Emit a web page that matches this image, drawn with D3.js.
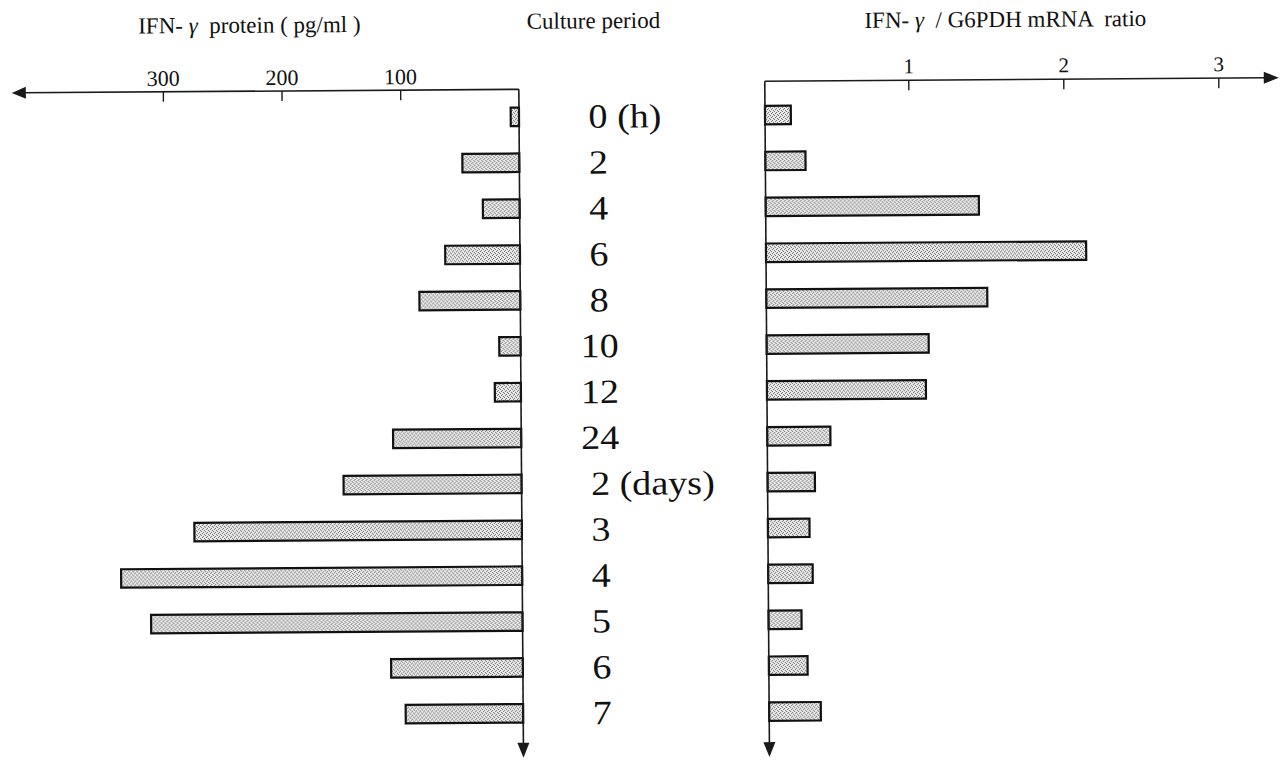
<!DOCTYPE html>
<html><head><meta charset="utf-8">
<script src="https://cdn.jsdelivr.net/npm/d3@7"></script>
<style>html,body{margin:0;padding:0;background:#fff;} svg{display:block;} text{white-space:pre;}</style>
</head><body>
<svg id="c" width="1285" height="760"></svg>
<script>
// ---- data ----
const periods      = ["0", "2", "4", "6", "8", "10", "12", "24", "2", "3", "4", "5", "6", "7"];
const periodUnits  = [" (h)", "", "", "", "", "", "", "", " (days)", "", "", "", "", ""];
const proteinValues = [7, 48, 31, 63, 85, 18, 22, 108, 150, 276, 338, 313, 111, 99];   // pg/ml
const mrnaValues    = [0.18, 0.28, 1.45, 2.14, 1.50, 1.12, 1.10, 0.44, 0.33, 0.29, 0.31, 0.23, 0.27, 0.36]; // ratio
const proteinTicks = [100, 200, 300];
const mrnaTicks    = [1, 2, 3];
const titleProtein = ["IFN- ", "\u03B3", "  protein ( pg/ml )"];
const titlePeriod  = "Culture period";
const titleMrna    = ["IFN- ", "\u03B3", "  / G6PDH mRNA  ratio"];

// ---- layout ----
const FONT = "'Liberation Serif', 'Times New Roman', serif";
const svg = d3.select("#c");
const root = svg.append("g").attr("transform", "rotate(-0.4,640,400)");

const idx = d3.range(periods.length);
const y = d3.scalePoint().domain(idx).range([116, 712.5]);
const barH = 18.5;

const xL = d3.scaleLinear().domain([0, 300]).range([521, 165]);
const xR = d3.scaleLinear().domain([0, 1, 2, 3]).range([767, 910.5, 1065.5, 1220.5]);
const axisYL = 88.5, axisYR = 82.2;

// stipple pattern
const defs = svg.append("defs");
const pat = defs.append("pattern").attr("id", "stip").attr("patternUnits", "userSpaceOnUse")
  .attr("width", 4).attr("height", 4);
pat.append("rect").attr("width", 4).attr("height", 4).attr("fill", "#ececec");
[[0,0],[2,1],[1,2],[3,3]].forEach(([a,b]) =>
  pat.append("rect").attr("x", a).attr("y", b).attr("width", 1).attr("height", 1).attr("fill", "#6a6a6a"));

const lineCol = "#1a1a1a";

// ---- left panel ----
const gL = root.append("g");
gL.selectAll("rect.bar").data(proteinValues).join("rect").attr("class", "bar")
  .attr("x", d => xL(d)).attr("width", d => xL(0) - xL(d))
  .attr("y", (d, i) => y(i) - barH / 2).attr("height", barH)
  .attr("fill", "url(#stip)").attr("stroke", "#111").attr("stroke-width", 2.2);

gL.append("line").attr("x1", xL(0)).attr("x2", 24).attr("y1", axisYL).attr("y2", axisYL)
  .attr("stroke", lineCol).attr("stroke-width", 1.6);
gL.append("path").attr("d", `M14,${axisYL} L28,${axisYL - 6} L28,${axisYL + 6} Z`).attr("fill", lineCol);
const axL = d3.axisTop(xL).tickValues(proteinTicks).tickFormat(d3.format("d"))
  .tickSizeInner(-10).tickSizeOuter(0).tickPadding(6);
const gAxL = gL.append("g").attr("transform", `translate(0,${axisYL})`).call(axL);
gAxL.select(".domain").remove();
gAxL.attr("font-family", null);
gAxL.selectAll(".tick line").attr("stroke", lineCol).attr("stroke-width", 1.4);
gAxL.selectAll(".tick text").style("font-family", FONT).style("font-size", "22px").attr("fill", "#111");
gL.append("line").attr("x1", xL(0)).attr("x2", xL(0)).attr("y1", axisYL).attr("y2", 745)
  .attr("stroke", lineCol).attr("stroke-width", 1.6);
gL.append("path").attr("d", `M${xL(0)},757 L${xL(0) - 6},742 L${xL(0) + 6},742 Z`).attr("fill", lineCol);

// ---- right panel ----
const gR = root.append("g");
gR.selectAll("rect.bar").data(mrnaValues).join("rect").attr("class", "bar")
  .attr("x", xR(0)).attr("width", d => xR(d) - xR(0))
  .attr("y", (d, i) => y(i) - barH / 2).attr("height", barH)
  .attr("fill", "url(#stip)").attr("stroke", "#111").attr("stroke-width", 2.2);

gR.append("line").attr("x1", xR(0)).attr("x2", 1270).attr("y1", axisYR).attr("y2", axisYR)
  .attr("stroke", lineCol).attr("stroke-width", 1.6);
gR.append("path").attr("d", `M1281,${axisYR} L1266,${axisYR - 6} L1266,${axisYR + 6} Z`).attr("fill", lineCol);
const axR = d3.axisTop(xR).tickValues(mrnaTicks).tickFormat(d3.format("d"))
  .tickSizeInner(-10).tickSizeOuter(0).tickPadding(7);
const gAxR = gR.append("g").attr("transform", `translate(0,${axisYR})`).call(axR);
gAxR.select(".domain").remove();
gAxR.attr("font-family", null);
gAxR.selectAll(".tick line").attr("stroke", lineCol).attr("stroke-width", 1.4);
gAxR.selectAll(".tick text").style("font-family", FONT).style("font-size", "21px").attr("fill", "#111");
gR.append("line").attr("x1", xR(0)).attr("x2", xR(0)).attr("y1", axisYR).attr("y2", 745)
  .attr("stroke", lineCol).attr("stroke-width", 1.6);
gR.append("path").attr("d", `M${xR(0)},758 L${xR(0) - 6},743 L${xR(0) + 6},743 Z`).attr("fill", lineCol);

// ---- category labels ----
const labX = 600, stretch = 1.12;
const labs = root.append("g").selectAll("text").data(idx).join("text")
  .style("font-family", FONT).style("font-size", "34px").attr("fill", "#111");
labs.append("tspan").attr("class", "num").text(i => periods[i]);
labs.append("tspan").text(i => periodUnits[i]);
labs.each(function (i) {
  const w = d3.select(this).select("tspan.num").node().getComputedTextLength() * stretch;
  d3.select(this).attr("transform", `translate(${labX - w / 2},${y(i) + 11.5}) scale(${stretch},1)`);
});

// ---- titles ----
function title(parts, cx, by) {
  const t = root.append("text").attr("x", cx).attr("y", by).attr("text-anchor", "middle")
    .style("font-family", FONT).style("font-size", "23px").attr("fill", "#111");
  t.append("tspan").text(parts[0]);
  t.append("tspan").style("font-style", "italic").text(parts[1]);
  t.append("tspan").text(parts[2]);
}
title(titleProtein, 252, 30);
root.append("text").attr("x", 596).attr("y", 28).attr("text-anchor", "middle")
  .style("font-family", FONT).style("font-size", "23px").attr("fill", "#111").text(titlePeriod);
title(titleMrna, 1008, 29.5);
</script>
</body></html>
